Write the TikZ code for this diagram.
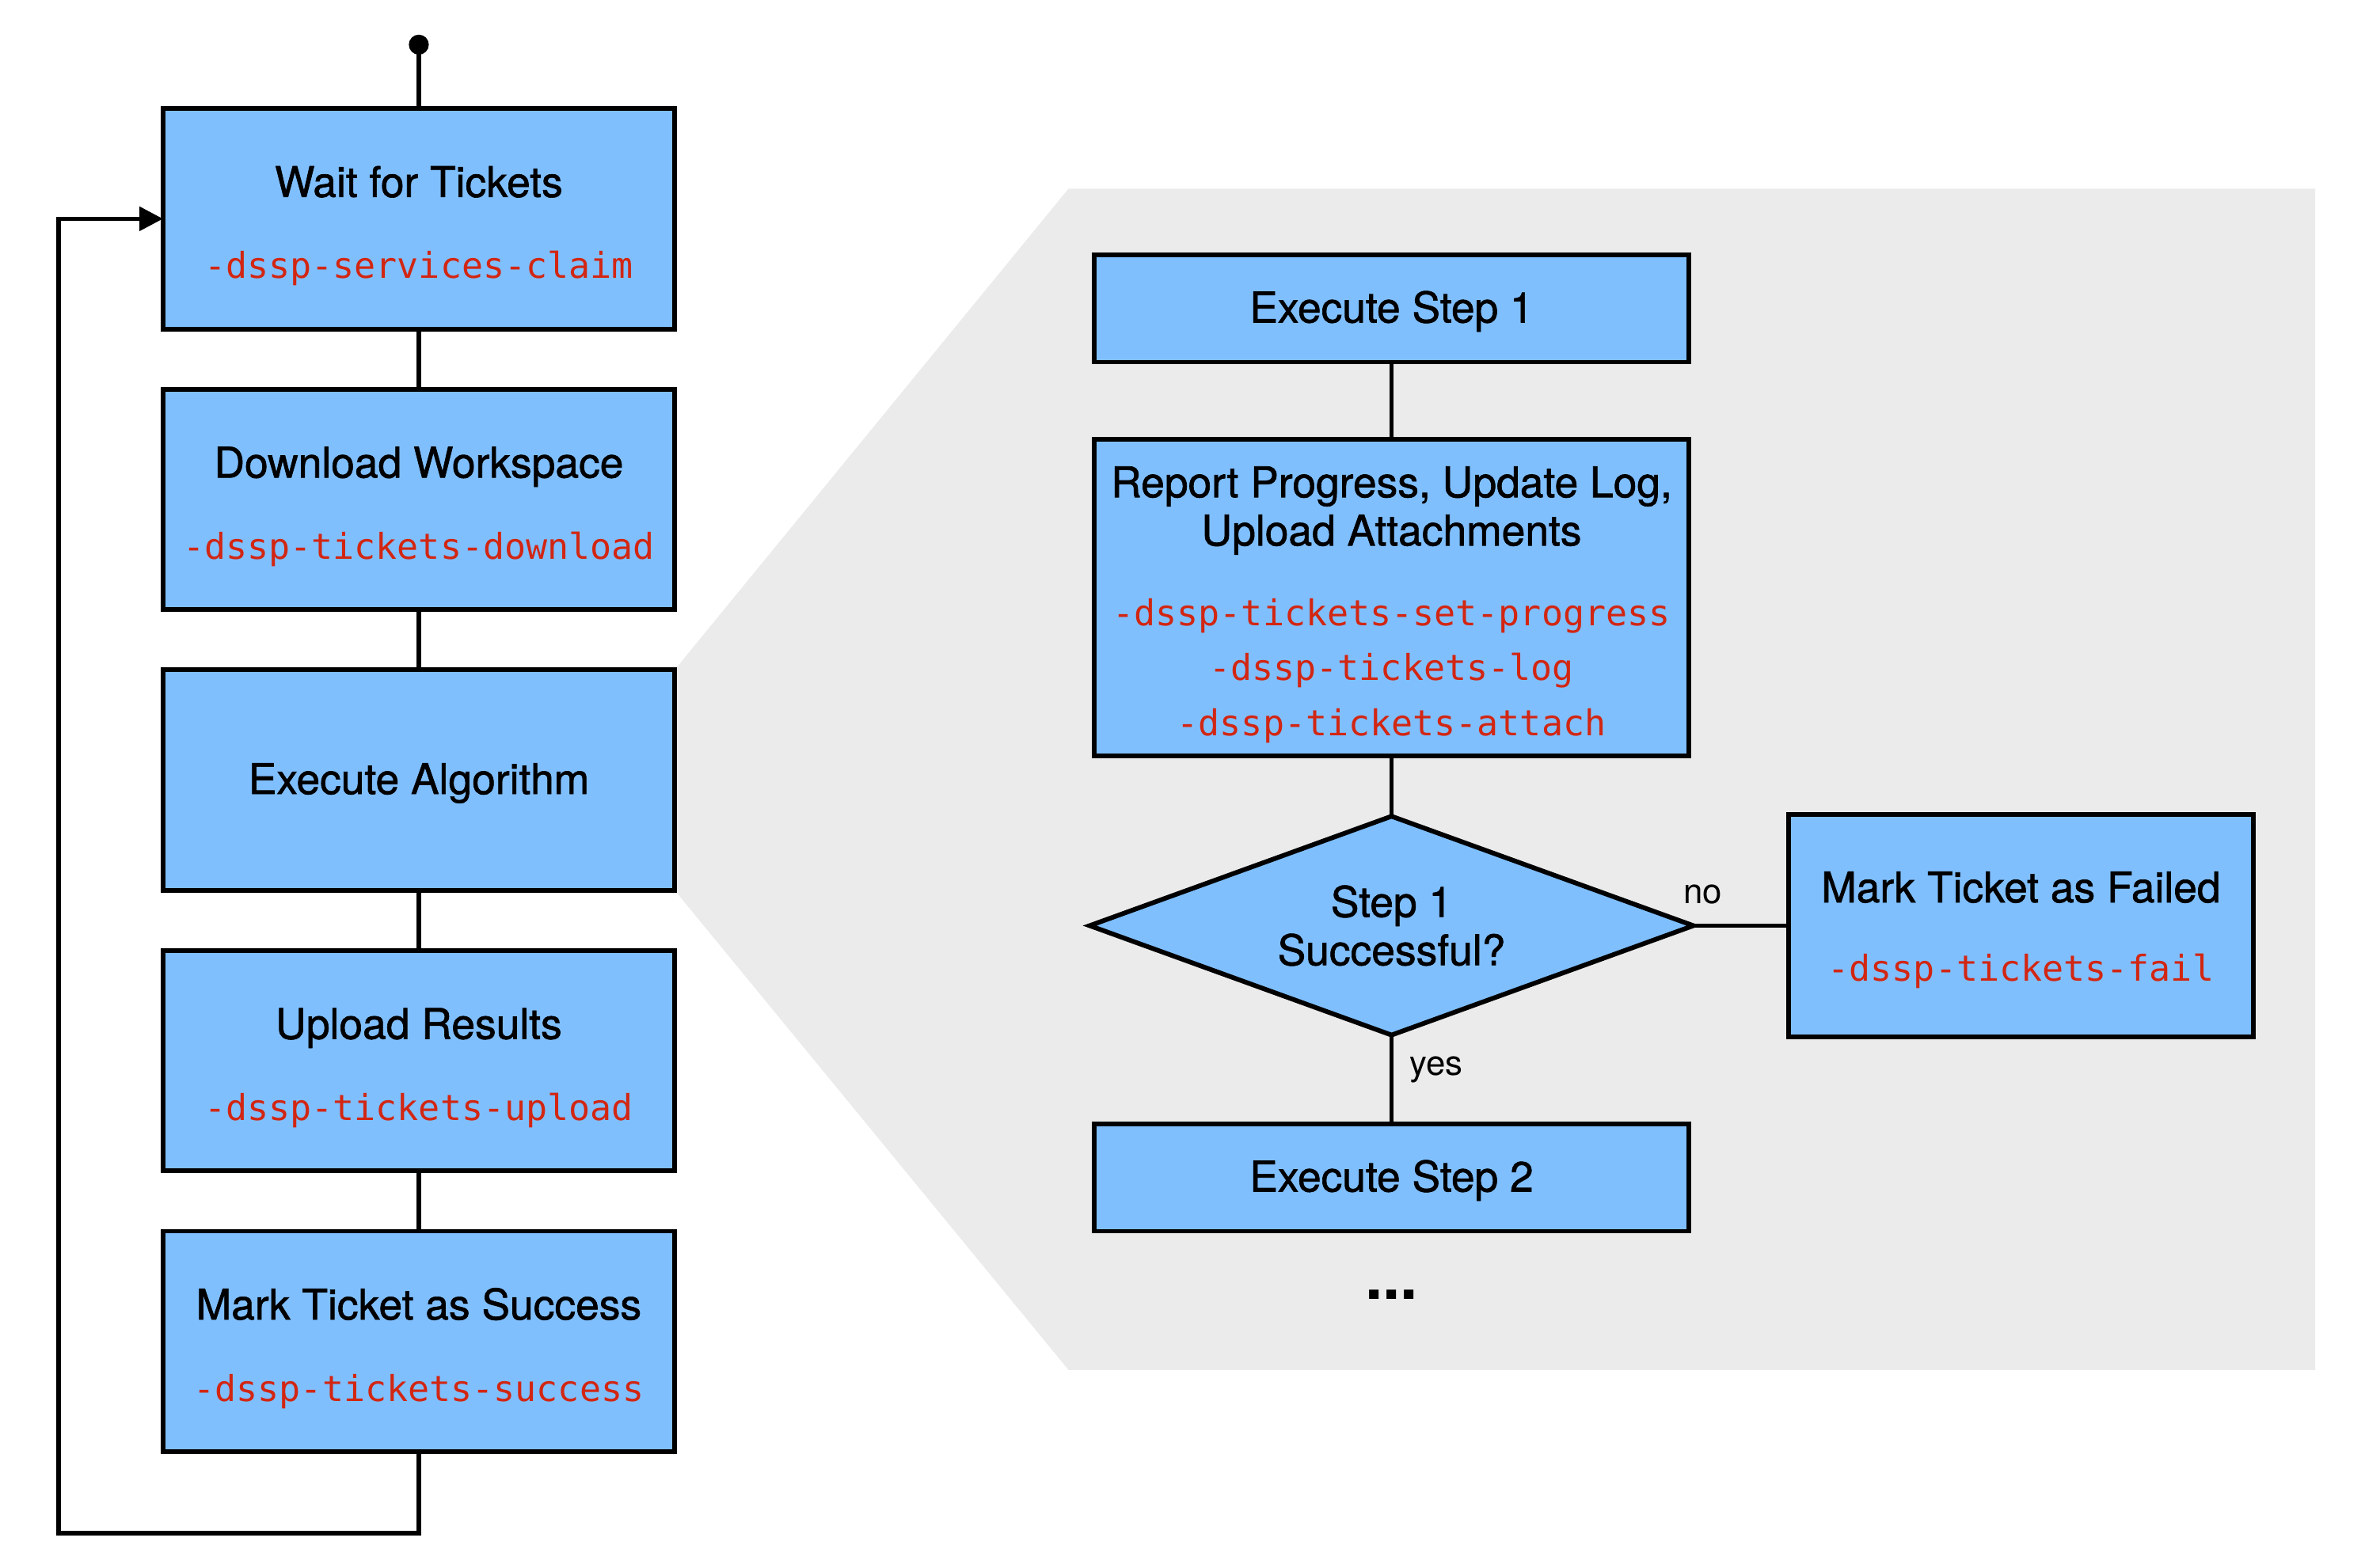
\documentclass[tikz,border=0pt]{standalone}
\usepackage{fontspec}
\setmainfont{TeX Gyre Heros}
\newfontfamily\titlefont{TeX Gyre Heros}[FakeBold=1.2]
\newfontfamily\codefont{DejaVu Sans Mono}
\usetikzlibrary{positioning,shapes.geometric,arrows.meta,backgrounds}
\definecolor{boxblue}{RGB}{128,191,254}
\definecolor{cmdred}{RGB}{210,38,18}
\definecolor{zoomgray}{RGB}{235,235,235}
\newcommand{\cmd}[1]{{\codefont\fontsize{11.8}{18}\selectfont\color{cmdred}#1}}
\newcommand{\headstrut}{\rule{0pt}{15pt}}

\begin{document}
\begin{tikzpicture}[
	x=0.5pt, y=-0.5pt
	,font=\titlefont\fontsize{14}{16}\selectfont
	,task/.style={draw, fill=boxblue, line width=1.55pt, outer sep=0pt, inner sep=0pt, align=center, minimum width=169.5pt, minimum height=73pt}
	,single/.style={text height=12.3pt}
	,wide/.style={task, single, minimum width=197pt, minimum height=35.5pt}
	,check/.style={draw, fill=boxblue, line width=1.55pt, outer sep=0pt, inner sep=0pt, diamond, aspect=2.76, align=center, minimum width=200pt, minimum height=72.5pt}
	,link/.style={line width=1.5pt}
	,lbl/.style={font=\rmfamily\fontsize{11.5}{13}\selectfont}
]
	\useasboundingbox (0,0) rectangle (1567,1039);

	% main loop
	\node[task] (wait) at (277.5,145) {\headstrut Wait for Tickets\\[11pt]\cmd{-dssp-services-claim}};
	\node[task, below=20pt of wait] (download) {\headstrut Download Workspace\\[11pt]\cmd{-dssp-tickets-download}};
	\node[task, single, below=20pt of download] (algo) {Execute Algorithm};
	\node[task, below=20pt of algo] (upload) {\headstrut Upload Results\\[11pt]\cmd{-dssp-tickets-upload}};
	\node[task, below=20pt of upload] (success) {\headstrut Mark Ticket as Success\\[11pt]\cmd{-dssp-tickets-success}};

	\coordinate (start) at (277.5,23);
	\coordinate (loop) at (39,1016);

	\draw[link, {Circle[length=6.6pt,width=6.6pt]}-] (start) -- (wait);
	\draw[link] (wait) -- (download);
	\draw[link] (download) -- (algo);
	\draw[link] (algo) -- (upload);
	\draw[link] (upload) -- (success);
	\draw[link, -{Triangle[length=7.8pt,width=7.8pt]}] (success) |- (loop) |- (wait);

	% algorithm detail
	\node[wide] (step1) at (922,204.5) {Execute Step 1};
	\node[task, minimum width=197pt, minimum height=105pt, below=25.5pt of step1] (report) {\headstrut Report Progress, Update Log,\\Upload Attachments\\[10.5pt]\cmd{-dssp-tickets-set-progress}\\[2.25pt]\cmd{-dssp-tickets-log}\\[2.25pt]\cmd{-dssp-tickets-attach}};
	\node[check, below=20pt of report] (check1) {Step 1\\Successful?};
	\node[task, minimum width=154pt, minimum height=73.5pt, right=31.5pt of check1] (failed) {\rule{0pt}{13pt}Mark Ticket as Failed\\[10pt]\cmd{-dssp-tickets-fail}};
	\node[wide, below=29.5pt of check1] (step2) {Execute Step 2};
	\node[font=\fontsize{21}{25}\selectfont\bfseries] (more) at (922,858) {...};

	\draw[link] (step1) -- (report);
	\draw[link] (report) -- (check1);
	\draw[link] (check1) -- node[lbl, pos=0.1, above=3pt] {no} (failed);
	\draw[link] (check1) -- node[lbl, pos=0.39, right=2pt] {yes} (step2);

	\begin{scope}[on background layer]
		\fill[zoomgray] (algo.north east) -- (708,125) -- (1534,125) -- (1534,908) -- (708,908) -- (algo.south east) -- cycle;
	\end{scope}
\end{tikzpicture}
\end{document}
